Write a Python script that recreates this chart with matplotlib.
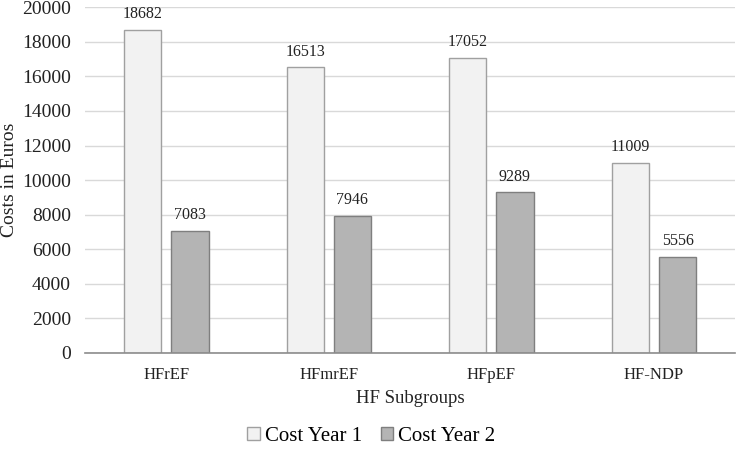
import matplotlib
matplotlib.use("Agg")
import matplotlib.pyplot as plt
import numpy as np

categories = ["HFrEF", "HFmrEF", "HFpEF", "HF-NDP"]
cost_year1 = [18682, 16513, 17052, 11009]
cost_year2 = [7083, 7946, 9289, 5556]
series_names = ["Cost Year 1", "Cost Year 2"]
yticks = [0, 2000, 4000, 6000, 8000, 10000, 12000, 14000, 16000, 18000, 20000]

plt.rcParams['font.family'] = ['Liberation Serif', 'DejaVu Serif']

fig = plt.figure(figsize=(7.44, 4.5), dpi=100)
ax = fig.add_axes([0.1142, 0.2156, 0.874, 0.7684])

x = np.arange(len(categories))
w = 0.23
off = 0.145
b1 = ax.bar(x - off, cost_year1, w, color="#f2f2f2", edgecolor="#a0a0a0", linewidth=1.0, label=series_names[0], zorder=3)
b2 = ax.bar(x + off, cost_year2, w, color="#b4b4b4", edgecolor="#7f7f7f", linewidth=1.0, label=series_names[1], zorder=3)

for bars, vals in ((b1, cost_year1), (b2, cost_year2)):
    for r, v in zip(bars, vals):
        ax.text(r.get_x() + r.get_width() / 2, v + 450, str(v), ha="center", va="bottom", fontsize=11.5, color="#222222")

ax.set_xlim(-0.5, len(categories) - 0.5)
ax.set_ylim(0, 20000)
ax.set_yticks(yticks)
ax.set_yticklabels([str(t) for t in yticks], fontsize=14, color="#222222")
ax.set_xticks(x)
ax.set_xticklabels(categories, fontsize=12, color="#222222")
ax.tick_params(axis="y", length=0, pad=10)
ax.tick_params(axis="x", length=0, pad=10)
ax.grid(axis="y", color="#d9d9d9", linewidth=1.0, zorder=0)
for s in ["top", "right", "left"]:
    ax.spines[s].set_visible(False)
ax.spines["bottom"].set_color("#8c8c8c")
ax.spines["bottom"].set_linewidth(1.2)
ax.spines["bottom"].set_zorder(4)

fig.text(0.013, 0.60, "Costs in Euros", rotation=90, ha="center", va="center", fontsize=14, color="#222222")
ax.set_xlabel("HF Subgroups", fontsize=13.5, color="#222222", labelpad=5)

fig.legend(handles=[b1, b2], labels=series_names, loc="center", bbox_to_anchor=(0.499, 0.03),
           ncol=2, frameon=False, fontsize=15, handlelength=0.6, handleheight=0.6,
           handletextpad=0.25, columnspacing=0.9, borderpad=0.2)

fig.savefig("out.png", dpi=100)
